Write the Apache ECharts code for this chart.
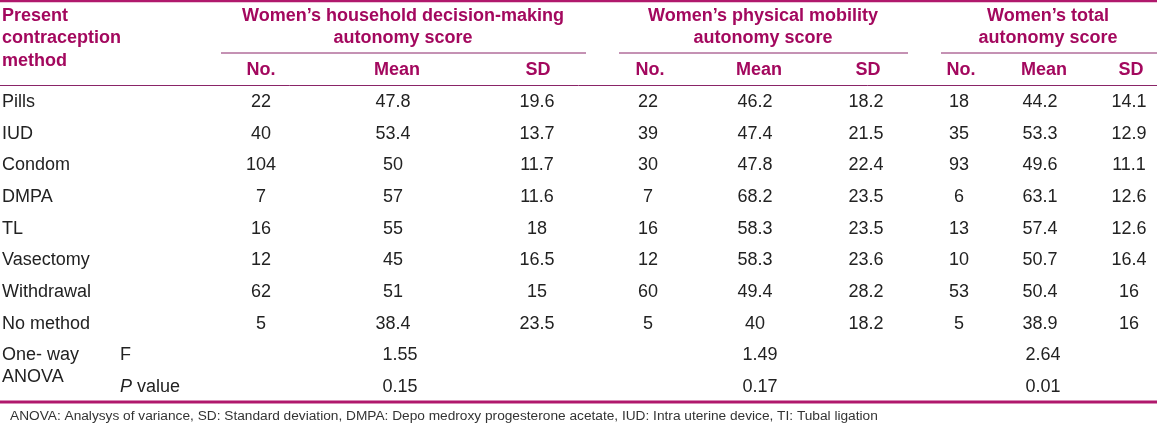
<!DOCTYPE html>
<html><head><meta charset="utf-8">
<script src="https://cdn.jsdelivr.net/npm/echarts@6/dist/echarts.min.js"></script>
<style>html,body{margin:0;padding:0;background:#fff}#c{width:1157px;height:428px}</style>
</head><body><div id="c"></div>
<script>
// ---- data ----
const methods = ['Pills','IUD','Condom','DMPA','TL','Vasectomy','Withdrawal','No method'];
const groupTitles = [["Women\u2019s household decision-making","autonomy score"],["Women\u2019s physical mobility","autonomy score"],["Women\u2019s total","autonomy score"]];
const stubTitle = ['Present','contraception','method'];
const colHeads = ['No.','Mean','SD'];
const hhNo   = [22,40,104,7,16,12,62,5];
const hhMean = [47.8,53.4,50,57,55,45,51,38.4];
const hhSD   = [19.6,13.7,11.7,11.6,18,16.5,15,23.5];
const pmNo   = [22,39,30,7,16,12,60,5];
const pmMean = [46.2,47.4,47.8,68.2,58.3,58.3,49.4,40];
const pmSD   = [18.2,21.5,22.4,23.5,23.5,23.6,28.2,18.2];
const tNo    = [18,35,93,6,13,10,53,5];
const tMean  = [44.2,53.3,49.6,63.1,57.4,50.7,50.4,38.9];
const tSD    = [14.1,12.9,11.1,12.6,12.6,16.4,16,16];
const anovaF = ['1.55','1.49','2.64'];
const anovaP = ['0.15','0.17','0.01'];
const footnote = 'ANOVA: Analysys of variance, SD: Standard deviation, DMPA: Depo medroxy progesterone acetate, IUD: Intra uterine device, TI: Tubal ligation';

// ---- layout ----
const W = 1157, H = 428;
const groupCenters = [403, 763, 1048];
const headX = [261,397,538, 650,759,868, 961,1044,1131];
const dataX = [261,393,537, 648,755,866, 959,1040,1129];
const anovaX = [400,760,1043];
const rowY0 = 102, rowStep = 31.7;
const FONT = "'Liberation Sans', Arial, sans-serif";
const HEAD = '#a3085e', BODY = '#222222';

const cells = [];
function add(x,y,text,kind,align){cells.push({x,y,text:String(text),kind,align:align||'center'});}
stubTitle.forEach((t,i)=>add(2,16+i*22.5,t,'head','left'));
groupTitles.forEach((g,gi)=>g.forEach((t,li)=>add(groupCenters[gi],16+li*22,t,'head')));
for(let k=0;k<9;k++) add(headX[k],70,colHeads[k%3],'head');
const cols = [hhNo,hhMean,hhSD,pmNo,pmMean,pmSD,tNo,tMean,tSD];
methods.forEach((m,i)=>{
  const y = rowY0 + i*rowStep;
  add(2,y,m,'body','left');
  cols.forEach((c,k)=>add(dataX[k],y,c[i],'body'));
});
const yF = 355, yP = 387;
add(2,yF,'One- way','body','left');
add(2,377,'ANOVA','body','left');
add(120,yF,'F','body','left');
add(120,yP,'{i|P} value','body','left');
anovaF.forEach((v,g)=>add(anovaX[g],yF,v,'body'));
anovaP.forEach((v,g)=>add(anovaX[g],yP,v,'body'));
add(10,416,footnote,'foot','left');

const rules = [
  {x1:0,x2:W,y:1,w:2.5,c:'#b0186c'},
  {x1:221,x2:586,y:53,w:1,c:'#8a2468'},
  {x1:619,x2:908,y:53,w:1,c:'#8a2468'},
  {x1:941,x2:W,y:53,w:1,c:'#8a2468'},
  {x1:0,x2:W,y:85.5,w:1,c:'#8a2468'},
  {x1:0,x2:W,y:402,w:3,c:'#b0186c'}
];

const chart = echarts.init(document.getElementById('c'), null, {renderer:'canvas'});
chart.setOption({
  animation:false,
  grid:{left:0,right:0,top:0,bottom:0},
  xAxis:{type:'value',min:0,max:W,show:false},
  yAxis:{type:'value',min:0,max:H,inverse:true,show:false},
  series:[
    {
      type:'custom', coordinateSystem:'cartesian2d', silent:true,
      data: rules.map(r=>[r.x1,r.y,r.x2]),
      renderItem:(params,api)=>{
        const r = rules[params.dataIndex];
        const a = api.coord([api.value(0),api.value(1)]);
        const b = api.coord([api.value(2),api.value(1)]);
        return {type:'line',shape:{x1:a[0],y1:a[1],x2:b[0],y2:b[1]},style:{stroke:r.c,lineWidth:r.w}};
      }
    },
    {
      type:'custom', coordinateSystem:'cartesian2d', silent:true,
      data: cells.map(c=>[c.x,c.y]),
      renderItem:(params,api)=>{
        const c = cells[params.dataIndex];
        const p = api.coord([api.value(0),api.value(1)]);
        const st = {
          text:c.text, x:p[0], y:p[1], align:c.align, verticalAlign:'middle',
          fontFamily:FONT,
          fontSize: c.kind==='foot'?13.7:18,
          fontWeight: c.kind==='head'?'bold':'normal',
          fill: c.kind==='head'?HEAD:(c.kind==='foot'?'#333':BODY),
          rich:{i:{fontStyle:'italic',fontFamily:FONT,fontSize:18,fill:BODY}}
        };
        return {type:'text',style:st};
      }
    }
  ]
});
</script>
</body></html>
